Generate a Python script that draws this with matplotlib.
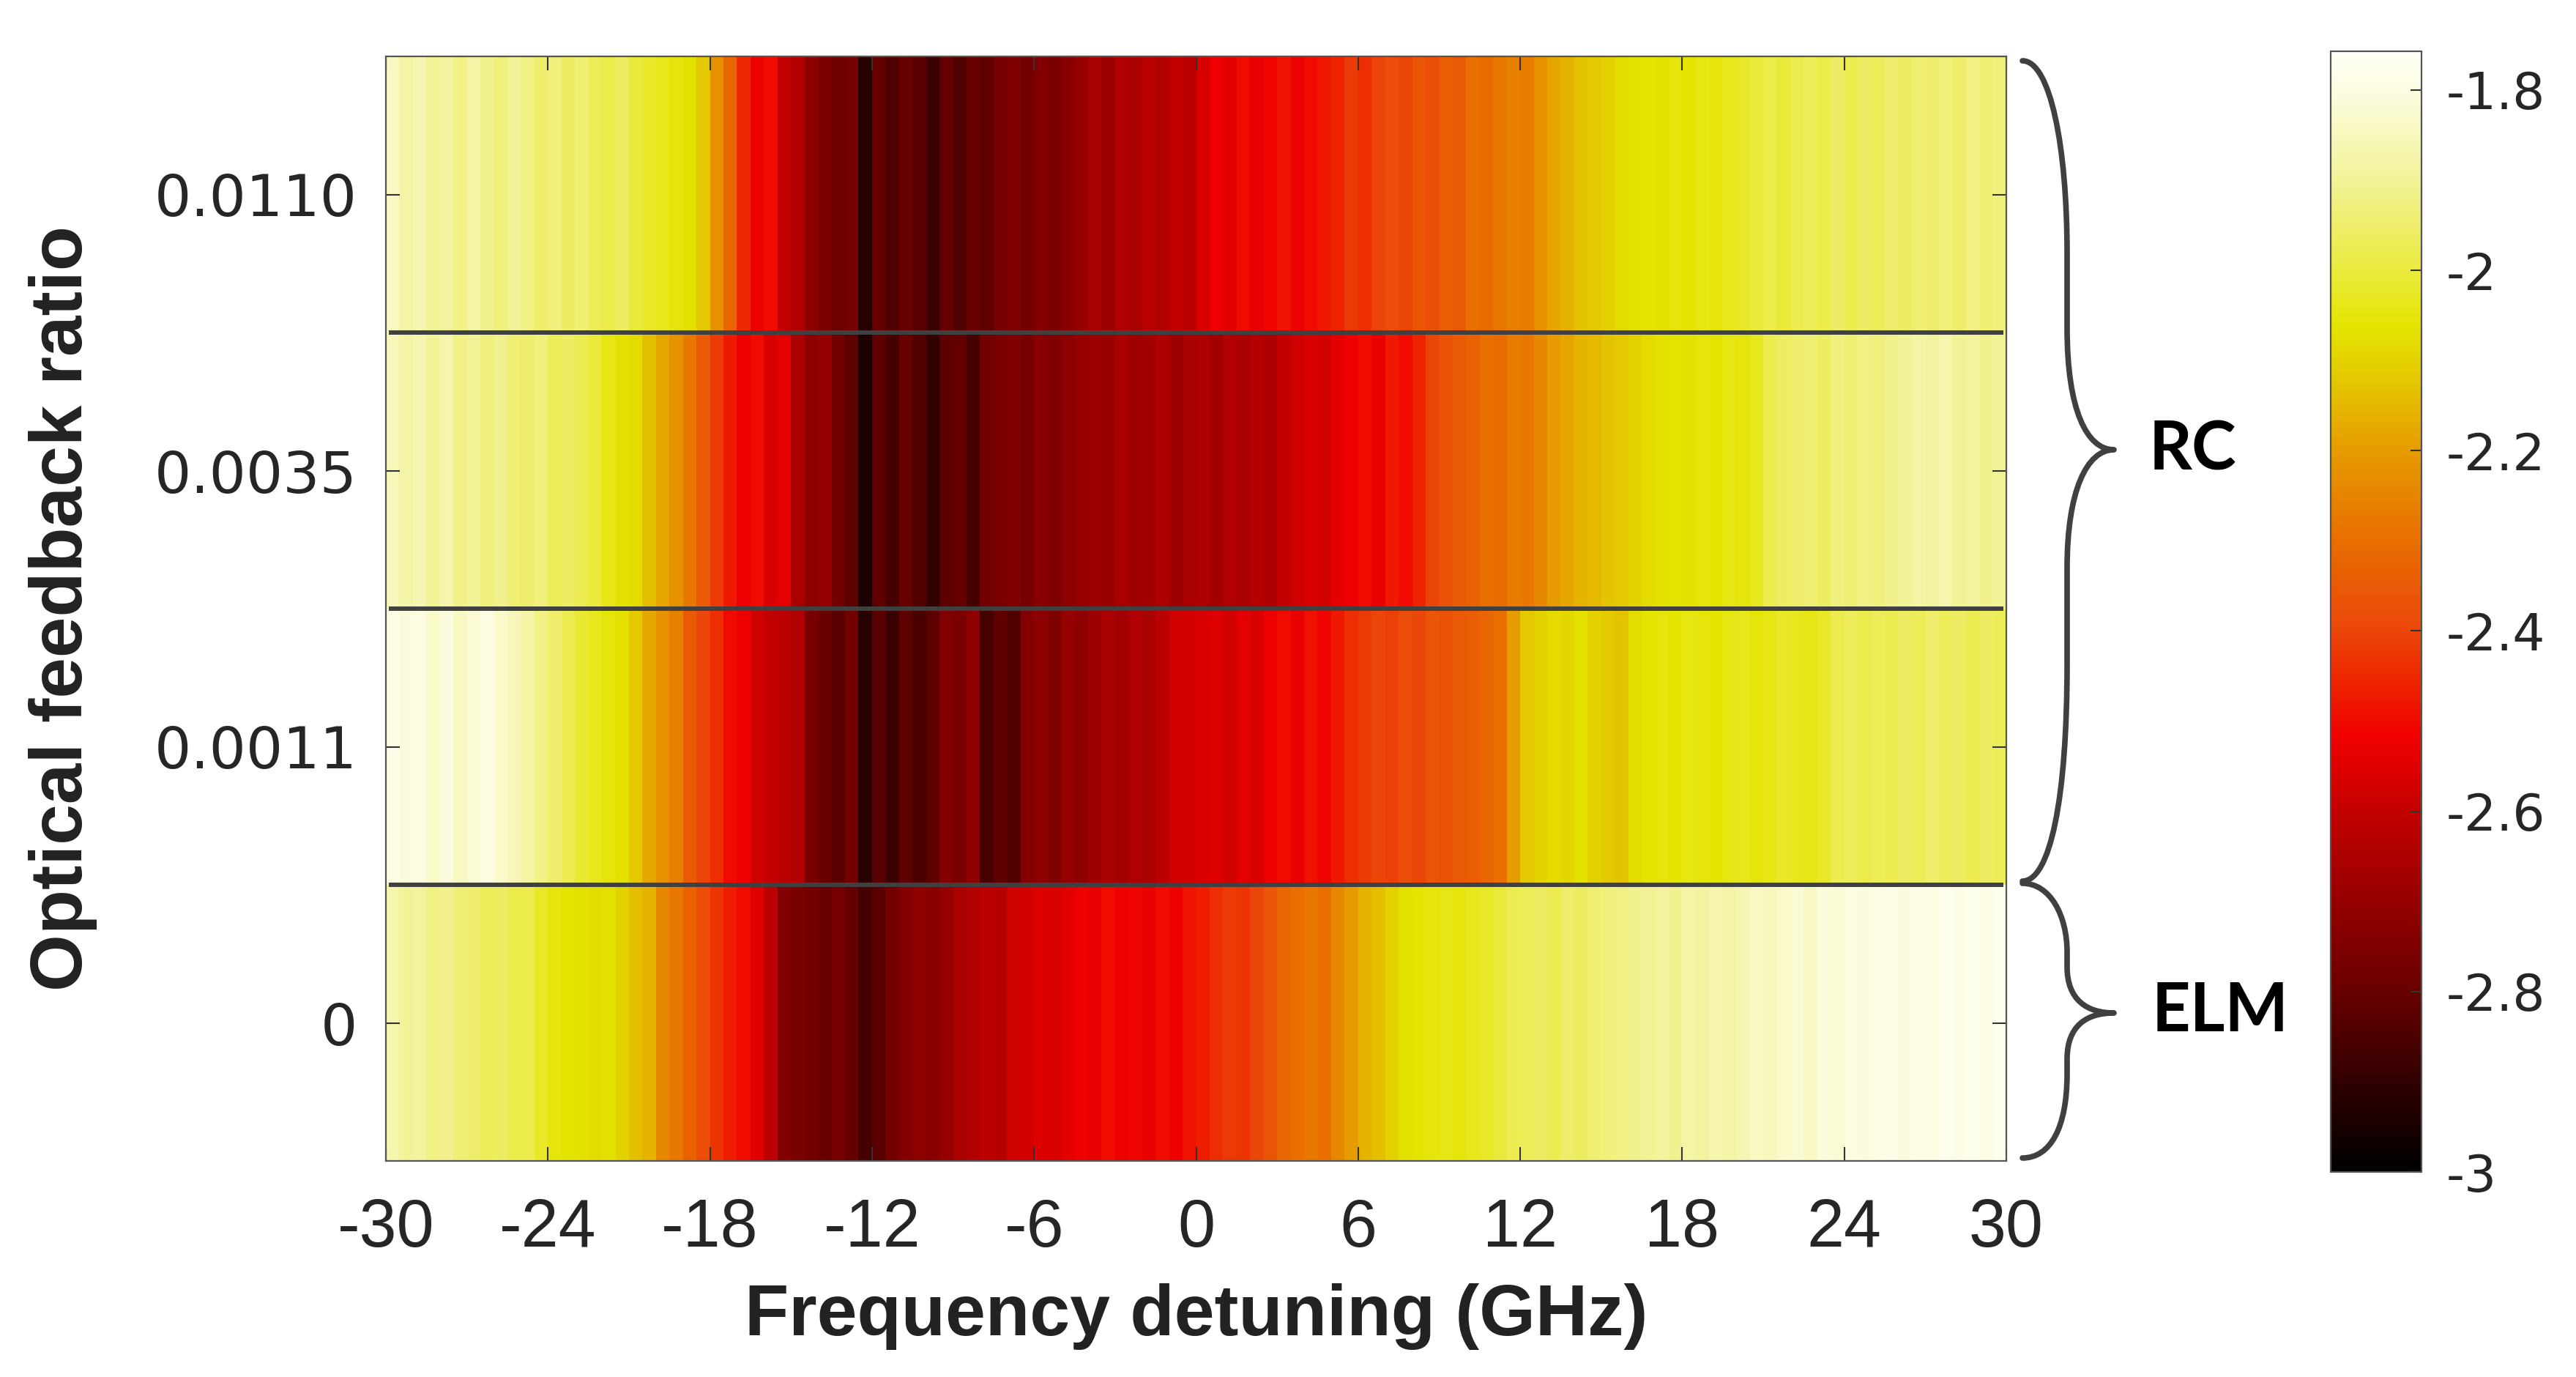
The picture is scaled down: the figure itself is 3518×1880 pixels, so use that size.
import numpy as np
import matplotlib
matplotlib.use("Agg")
import matplotlib.pyplot as plt
from matplotlib.colors import LinearSegmentedColormap
from matplotlib.path import Path
from matplotlib.patches import PathPatch

plt.rcParams['axes.unicode_minus'] = False

# ---------------- data ----------------
x_range = [-30, 30]                      # GHz
row_labels = ["0", "0.0011", "0.0035", "0.0110"]
x_ticks = [-30, -24, -18, -12, -6, 0, 6, 12, 18, 24, 30]
cbar_ticks = [-3.0, -2.8, -2.6, -2.4, -2.2, -2.0, -1.8]
cbar_ticklabels = ["-3", "-2.8", "-2.6", "-2.4", "-2.2", "-2", "-1.8"]
clim = [-3.0, -1.757]

# values in 0.5 GHz bins from -30 to 30 GHz (log10 scale)
r0000 = [-1.87, -1.90, -1.89, -1.92, -1.91, -1.94, -1.95, -1.97, -1.96, -1.99,
         -1.98, -2.02, -2.05, -2.06, -2.07, -2.08, -2.07, -2.10, -2.14, -2.16,
         -2.24, -2.28, -2.33, -2.38, -2.43, -2.47, -2.50, -2.55, -2.62, -2.74,
         -2.76, -2.78, -2.80, -2.77, -2.81, -2.86, -2.83, -2.78, -2.74, -2.72,
         -2.73, -2.70, -2.66, -2.64, -2.62, -2.63, -2.58, -2.57, -2.55, -2.56,
         -2.54, -2.52, -2.53, -2.50, -2.52, -2.51, -2.53, -2.50, -2.52, -2.49,
         -2.47, -2.44, -2.42, -2.43, -2.40, -2.36, -2.32, -2.30, -2.28, -2.30,
         -2.24, -2.20, -2.16, -2.14, -2.10, -2.07, -2.06, -2.05, -2.04, -2.05,
         -2.03, -2.02, -2.00, -1.98, -1.97, -1.96, -1.98, -1.95, -1.96, -1.94,
         -1.93, -1.92, -1.91, -1.90, -1.89, -1.91, -1.88, -1.89, -1.87, -1.88,
         -1.86, -1.84, -1.85, -1.83, -1.82, -1.84, -1.81, -1.82, -1.80, -1.81,
         -1.80, -1.79, -1.81, -1.79, -1.80, -1.78, -1.79, -1.78, -1.80, -1.78]

r0011 = [-1.79, -1.81, -1.80, -1.83, -1.81, -1.84, -1.82, -1.80, -1.83, -1.85,
         -1.88, -1.92, -1.95, -1.98, -2.01, -2.03, -2.05, -2.07, -2.12, -2.18,
         -2.22, -2.26, -2.35, -2.40, -2.44, -2.50, -2.52, -2.58, -2.60, -2.62,
         -2.64, -2.76, -2.80, -2.83, -2.78, -2.92, -2.83, -2.88, -2.82, -2.85,
         -2.82, -2.74, -2.76, -2.72, -2.86, -2.82, -2.84, -2.74, -2.72, -2.75,
         -2.70, -2.72, -2.68, -2.66, -2.67, -2.64, -2.66, -2.62, -2.58, -2.57,
         -2.56, -2.55, -2.57, -2.54, -2.56, -2.52, -2.50, -2.53, -2.49, -2.51,
         -2.48, -2.44, -2.42, -2.40, -2.41, -2.38, -2.40, -2.36, -2.37, -2.35,
         -2.34, -2.32, -2.30, -2.20, -2.12, -2.10, -2.08, -2.09, -2.07, -2.10,
         -2.12, -2.13, -2.08, -2.06, -2.05, -2.06, -2.04, -2.05, -2.06, -2.04,
         -2.03, -2.05, -2.04, -2.02, -2.03, -2.04, -2.02, -1.98, -1.97, -1.99,
         -1.97, -1.98, -1.96, -1.97, -1.95, -1.97, -1.96, -1.98, -1.96, -1.97]

r0035 = [-1.85, -1.88, -1.86, -1.90, -1.87, -1.92, -1.90, -1.93, -1.91, -1.94,
         -1.95, -1.93, -1.97, -1.96, -1.98, -2.00, -2.04, -2.07, -2.08, -2.14,
         -2.18, -2.22, -2.28, -2.35, -2.42, -2.48, -2.52, -2.50, -2.56, -2.54,
         -2.66, -2.72, -2.70, -2.78, -2.82, -2.94, -2.82, -2.86, -2.80, -2.84,
         -2.90, -2.82, -2.81, -2.86, -2.78, -2.76, -2.74, -2.77, -2.73, -2.75,
         -2.72, -2.70, -2.68, -2.69, -2.66, -2.68, -2.67, -2.65, -2.68, -2.66,
         -2.65, -2.67, -2.64, -2.66, -2.63, -2.65, -2.60, -2.58, -2.56, -2.57,
         -2.54, -2.52, -2.50, -2.53, -2.48, -2.50, -2.46, -2.40, -2.37, -2.35,
         -2.33, -2.30, -2.31, -2.27, -2.28, -2.24, -2.20, -2.18, -2.16, -2.15,
         -2.13, -2.12, -2.10, -2.08, -2.07, -2.06, -2.07, -2.05, -2.06, -2.04,
         -2.05, -2.03, -1.98, -1.96, -1.95, -1.94, -1.96, -1.93, -1.94, -1.92,
         -1.93, -1.91, -1.90, -1.88, -1.89, -1.87, -1.90, -1.89, -1.91, -1.90]

r0110 = [-1.84, -1.88, -1.86, -1.90, -1.89, -1.92, -1.88, -1.91, -1.93, -1.90,
         -1.92, -1.95, -1.93, -1.96, -1.94, -1.97, -1.99, -1.96, -2.00, -2.02,
         -2.03, -2.05, -2.07, -2.12, -2.22, -2.32, -2.45, -2.52, -2.50, -2.60,
         -2.64, -2.72, -2.76, -2.79, -2.77, -2.92, -2.81, -2.84, -2.80, -2.83,
         -2.88, -2.81, -2.84, -2.80, -2.82, -2.77, -2.75, -2.78, -2.74, -2.76,
         -2.73, -2.70, -2.66, -2.68, -2.64, -2.66, -2.62, -2.64, -2.60, -2.62,
         -2.56, -2.52, -2.54, -2.50, -2.53, -2.51, -2.49, -2.52, -2.50, -2.48,
         -2.46, -2.42, -2.44, -2.40, -2.38, -2.40, -2.36, -2.38, -2.34, -2.35,
         -2.30, -2.31, -2.28, -2.26, -2.27, -2.22, -2.18, -2.16, -2.13, -2.12,
         -2.10, -2.08, -2.07, -2.06, -2.07, -2.05, -2.06, -2.04, -2.05, -2.03,
         -2.02, -2.00, -1.99, -2.00, -1.98, -1.97, -1.99, -1.96, -1.98, -1.96,
         -1.97, -1.95, -1.96, -1.94, -1.95, -1.93, -1.95, -1.92, -1.94, -1.93]

Z = np.array([r0000, r0011, r0035, r0110])

# ---------------- colormap ----------------
anchor_vals = [-3.0, -2.9, -2.8, -2.7, -2.6, -2.52, -2.45, -2.4, -2.3, -2.2,
               -2.12, -2.06, -2.0, -1.9, -1.8, -1.757]
anchor_cols = [(0, 0, 0), (50, 0, 0), (105, 0, 0), (150, 0, 0), (195, 0, 0),
               (240, 0, 0), (238, 40, 0), (235, 70, 10), (232, 110, 0),
               (230, 155, 0), (228, 200, 0), (228, 228, 0), (234, 234, 60),
               (242, 242, 150), (252, 252, 225), (255, 255, 245)]
pos = [(v - clim[0]) / (clim[1] - clim[0]) for v in anchor_vals]
pos[0], pos[-1] = 0.0, 1.0
cmap = LinearSegmentedColormap.from_list(
    "hotlike", list(zip(pos, [tuple(c / 255 for c in col) for col in anchor_cols])))

# ---------------- figure ----------------
W, H = 3518, 1880
fig = plt.figure(figsize=(W / 100, H / 100), dpi=100)
ax = fig.add_axes([527 / W, 1 - 1585 / H, (2740 - 527) / W, (1585 - 77) / H])

xedges = np.linspace(x_range[0], x_range[1], Z.shape[1] + 1)
yedges = np.arange(Z.shape[0] + 1) - 0.5
mesh = ax.pcolormesh(xedges, yedges, Z, cmap=cmap, vmin=clim[0], vmax=clim[1],
                     shading='flat', edgecolors='none', antialiased=False)

for yb in yedges[1:-1]:
    ax.axhline(yb, color='#404040', lw=4.3, xmin=0.003, xmax=0.997)

ax.set_xlim(x_range)
ax.set_ylim(yedges[0], yedges[-1])
ax.set_xticks(x_ticks)
ax.set_xticklabels([str(t) for t in x_ticks], fontfamily='Liberation Sans',
                   fontsize=66, color='#262626')
ax.set_yticks(range(len(row_labels)))
ax.set_yticklabels(row_labels, fontfamily='DejaVu Sans', fontsize=57, color='#262626')
ax.tick_params(axis='both', direction='in', length=14, width=1.5, color='#333333',
               top=True, right=True)
ax.tick_params(axis='x', pad=36)
ax.tick_params(axis='y', pad=28)
for s in ax.spines.values():
    s.set_color('#555555')
    s.set_linewidth(1.6)

ax.set_xlabel("Frequency detuning (GHz)", fontfamily='Liberation Sans',
              fontweight='bold', fontsize=71, color='#222222', labelpad=22)
ax.set_ylabel("Optical feedback ratio", fontfamily='Liberation Sans',
              fontweight='bold', fontsize=72, color='#222222', labelpad=56)

# colorbar
cax = fig.add_axes([3183 / W, 1 - 1600 / H, 124 / W, (1600 - 70) / H])
cb = fig.colorbar(mesh, cax=cax)
cb.set_ticks(cbar_ticks)
cb.set_ticklabels(cbar_ticklabels)
cax.tick_params(direction='in', length=11, width=1.5, color='#333333', pad=24,
                labelsize=50)
for lab in cax.get_yticklabels():
    lab.set_fontfamily('DejaVu Sans')
    lab.set_color('#262626')
cb.outline.set_edgecolor('#555555')
cb.outline.set_linewidth(1.6)


# braces (figure pixel coordinates, y downward -> converted)
def P(x, y):
    return (x / W, 1 - y / H)


def brace(pts_codes):
    verts = [P(*p) for p, _ in pts_codes]
    codes = [c for _, c in pts_codes]
    patch = PathPatch(Path(verts, codes), transform=fig.transFigure, fill=False,
                      edgecolor='#404040', lw=5.5, capstyle='round', joinstyle='round')
    fig.add_artist(patch)


M, C, L = Path.MOVETO, Path.CURVE4, Path.LINETO
brace([((2762, 83), M),
       ((2800, 83), C), ((2823, 200), C), ((2823, 346), C),
       ((2823, 448), L),
       ((2823, 560), C), ((2850, 614), C), ((2887, 614), C),
       ((2850, 614), C), ((2823, 670), C), ((2823, 775), C),
       ((2823, 907), L),
       ((2823, 1090), C), ((2800, 1203), C), ((2762, 1203), C)])
brace([((2762, 1206), M),
       ((2800, 1206), C), ((2823, 1250), C), ((2823, 1300), C),
       ((2823, 1320), L),
       ((2823, 1365), C), ((2850, 1383), C), ((2887, 1383), C),
       ((2850, 1383), C), ((2823, 1400), C), ((2823, 1446), C),
       ((2823, 1466), L),
       ((2823, 1540), C), ((2800, 1581), C), ((2762, 1581), C)])

fig.text(2935 / W, 1 - 615 / H, "RC", fontfamily='Lato', fontweight='bold',
         fontsize=66, color='black', ha='left', va='center')
fig.text(2939 / W, 1 - 1382 / H, "ELM", fontfamily='Lato', fontweight='bold',
         fontsize=66, color='black', ha='left', va='center')

fig.savefig("out.png", dpi=100)
